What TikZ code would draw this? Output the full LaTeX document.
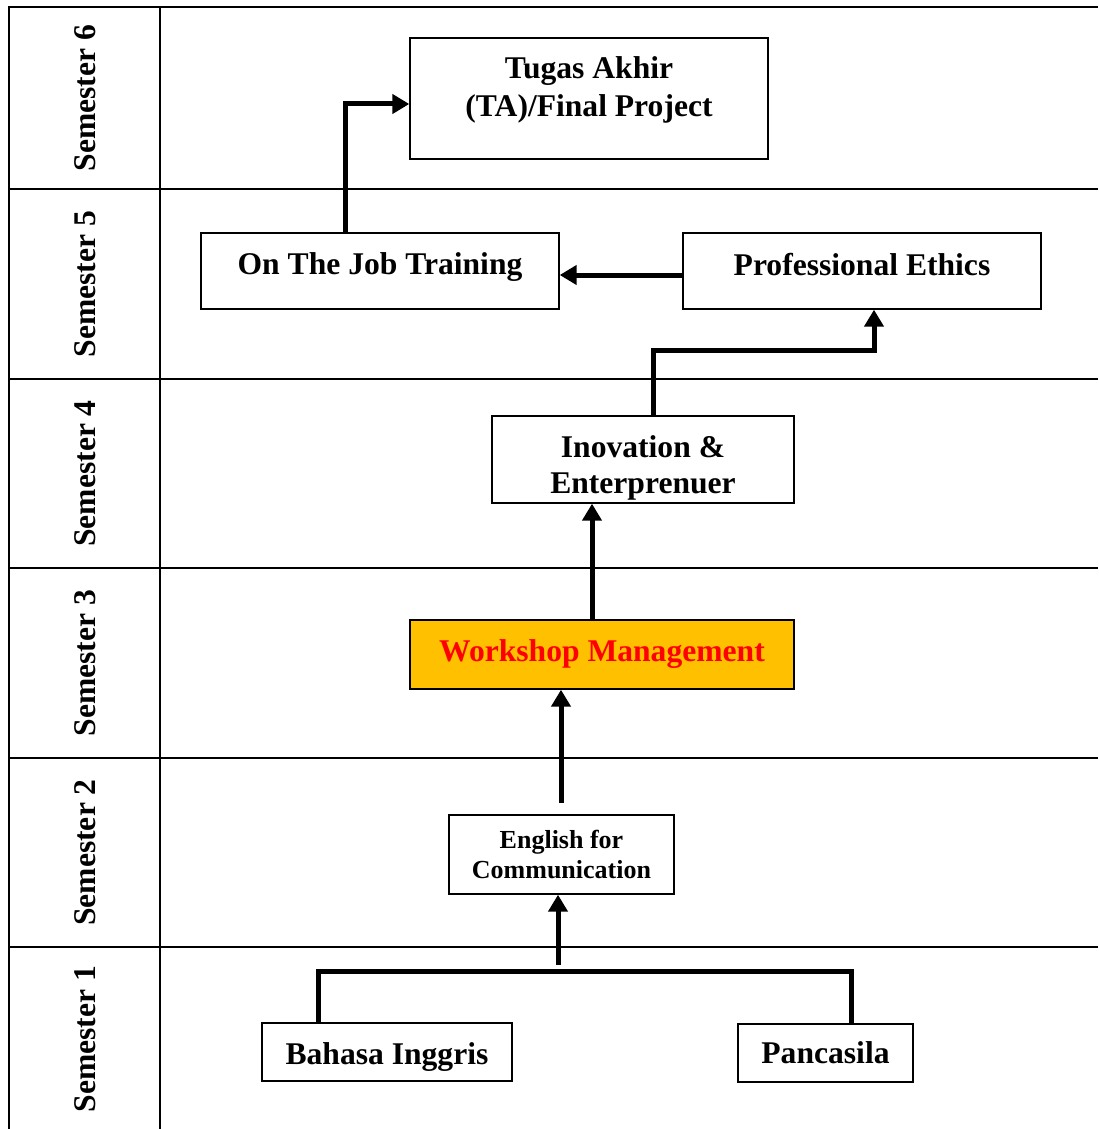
\documentclass[tikz,border=0pt]{standalone}
\usepackage{fontspec}
\setmainfont{Liberation Serif}
\usetikzlibrary{arrows.meta}
\begin{document}
\begin{tikzpicture}[x=0.5pt,y=-0.5pt]
    \tikzstyle{box}=[draw,line width=0.7pt,inner sep=0pt,align=center,font=\fontsize{15.8}{19}\selectfont\bfseries];
    \tikzstyle{flow}=[line width=2.5pt,-{Triangle[length=8.5pt,width=9.5pt]}];
    \tikzstyle{bar}=[line width=2.5pt];
    \useasboundingbox (0,0) rectangle (1098,1129);
    %grid of semesters
    \draw[line width=1pt] (9,1129) -- (9,7) -- (1098,7);
    \draw[line width=1pt] (160,7) -- (160,1129);
    \foreach \y in {189,379,568,758,947}
      \draw[line width=1pt] (9,\y) -- (1098,\y);
    \foreach \s/\y in {6/98,5/284,4/473.5,3/663,2/852.5,1/1039}
      \node[rotate=90,font=\fontsize{15.8}{19}\selectfont\bfseries] (sem\s) at (85,\y) {Semester \s};
    %\node (name) at (x,y) [box,minimum width=..,minimum height=..] {text};
    \node (ta) at (589,98.5) [box,minimum width=179pt,minimum height=60.5pt,text depth=11.5pt] {Tugas Akhir\\(TA)/Final Project};
    \node (ojt) at (380,271) [box,minimum width=179pt,minimum height=38pt,text depth=7.4pt] {On The Job Training};
    \node (pe) at (862,271) [box,minimum width=179pt,minimum height=38pt,text depth=7pt] {Professional Ethics};
    \node (ie) at (643,459.5) [box,minimum width=151pt,minimum height=43.5pt,text height=37pt,font=\fontsize{15.8}{18}\selectfont\bfseries] {Inovation \&\\Enterprenuer};
    \node (wm) at (602,654.5) [box,minimum width=192pt,minimum height=34.5pt,fill={rgb,255:red,255;green,192;blue,0},text=red] {Workshop Management};
    \node (efc) at (561.5,854.5) [box,minimum width=112.5pt,minimum height=39.5pt,font=\fontsize{13}{15}\selectfont\bfseries] {English for\\Communication};
    \node (bi) at (387,1052) [box,minimum width=125pt,minimum height=29pt,text height=16pt] {Bahasa Inggris};
    \node (pc) at (825.5,1053) [box,minimum width=87.5pt,minimum height=29pt] {Pancasila};
    \coordinate (s1) at (558,965);
    \coordinate (s2) at (561,803);
    \draw[bar] ([xshift=-34.5pt]bi.north) -- ++(0,25.5pt) -| ([xshift=12.75pt]pc.north);
    \draw[flow] (s1) -- (s1 |- efc.south);
    \draw[flow] (s2) -- (s2 |- wm.south);
    \draw[flow] ([xshift=-5pt]wm.north) -- ([xshift=-5pt]wm.north |- ie.south);
    \draw[flow] ([xshift=5pt]ie.north) -- ++(0,32.5pt) -| ([xshift=6pt]pe.south);
    \draw[flow] ([yshift=-2pt]pe.west) -- ([yshift=-2pt]ojt.east);
    \draw[flow] ([xshift=-17.5pt]ojt.north) |- ([yshift=-2.75pt]ta.west);
  \end{tikzpicture}
\end{document}
